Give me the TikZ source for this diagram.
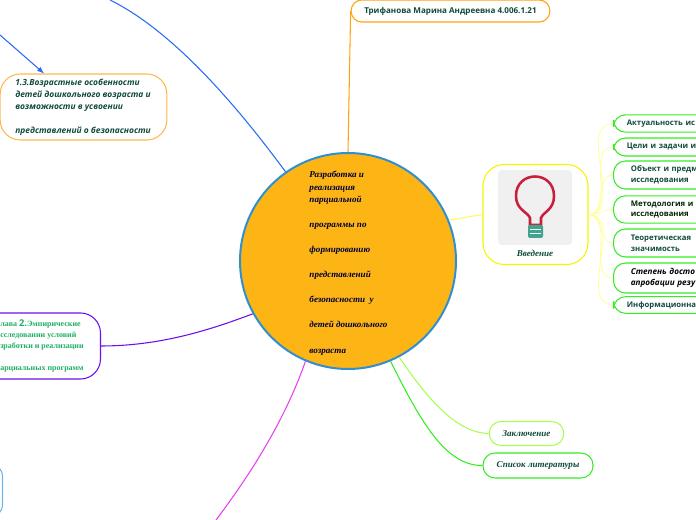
\documentclass[tikz,border=0pt]{standalone}
\usepackage{fontspec}
\setmainfont{Liberation Serif}
\setsansfont{Open Sans}
\usepackage{tikz}
\definecolor{inkgreen}{HTML}{0F4A3C}
\definecolor{mintgreen}{HTML}{1DAE68}
\definecolor{rootfill}{HTML}{FDB515}
\definecolor{rootedge}{HTML}{2F8FD0}
\definecolor{boxorange}{HTML}{FFA30F}
\definecolor{boxpeach}{HTML}{FFB84D}
\definecolor{linkblue}{HTML}{2A6CF5}
\definecolor{boxviolet}{HTML}{6A10F0}
\definecolor{boxyellow}{HTML}{F5F500}
\definecolor{fanyellow}{HTML}{FFFF99}
\definecolor{boxgreen}{HTML}{33EE22}
\definecolor{boxlime}{HTML}{A8FF50}
\definecolor{boxsky}{HTML}{70B5E5}
\definecolor{linkpink}{HTML}{E840F0}
\definecolor{bulbred}{HTML}{C91F3C}
\definecolor{bulbteal}{HTML}{3FA58F}
\tikzset{
  link/.style={line width=.8pt},
  sidebox/.style={draw=boxgreen,line width=.8pt,rounded corners=9pt,anchor=west,minimum width=150pt,
    text width=130pt,align=left,font=\sffamily\bfseries\fontsize{5.8}{8}\selectfont,text=inkgreen},
  endbox/.style={draw,line width=.8pt,rounded corners=9pt,font=\rmfamily\bfseries\itshape\fontsize{6.8}{9}\selectfont,text=inkgreen}
}
\begin{document}
\begin{tikzpicture}[x=.75pt,y=-.75pt]
\clip (0,0) rectangle (696,520);
\node[circle,draw=rootedge,line width=1.5pt,fill=rootfill,minimum size=162pt,inner sep=0pt] (main) at (348,261) {};
\node[align=left,inner sep=0pt,font=\rmfamily\bfseries\itshape\fontsize{6.8}{9.4}\selectfont,text=black!80!blue] (maintitle) at (348.5,263)
  {Разработка и\\реализация\\парциальной\\[9.4pt]программы по\\[9.4pt]формированию\\[9.4pt]представлений\\[9.4pt]безопасности\ \ у\\[9.4pt]детей дошкольного\\[9.4pt]возраста};
% top and left
\node[draw=boxorange,line width=.8pt,rounded corners=8pt,minimum width=149pt,minimum height=16.5pt,
  font=\sffamily\bfseries\fontsize{6.05}{8}\selectfont,text=inkgreen] (author) at (450.5,11) {Трифанова Марина Андреевна 4.006.1.21};
\node[draw=boxpeach,line width=.8pt,rounded corners=15pt,minimum width=125pt,minimum height=49.5pt] (age) at (83.5,107) {};
\node[anchor=west,align=left,inner sep=0pt,font=\sffamily\bfseries\itshape\fontsize{6.3}{9}\selectfont,text=inkgreen] (agetext) at (15,107)
  {1.3.Возрастные особенности\\детей дошкольного возраста и\\возможности в усвоении\\[9pt]представлений о безопасности};
\node[draw=boxviolet,line width=.8pt,rounded corners=15pt,anchor=east,minimum width=130pt,minimum height=49.5pt] (empiric) at (101,346) {};
\node[anchor=west,align=left,inner sep=0pt,font=\rmfamily\bfseries\fontsize{6}{8.25}\selectfont,text=mintgreen] (empirictext) at (0,346)
  {лава \textsf{\fontsize{7}{8}\selectfont 2.}Эмпирические\\сследовании условий\\зработки и реализации\\[8.25pt]арциальных программ};
\node[draw=boxsky,line width=.8pt,rounded corners=10pt,anchor=east,minimum width=60pt,minimum height=41pt] (practice) at (3,490.5) {};
\coordinate (bluein) at (0,35);
\coordinate (blueout) at (110,0);
\coordinate (pinkout) at (216,520);
\draw[link,boxorange] (main.90) -- (author.west);
\draw[link,linkblue,-latex] (bluein) -- (age.north -| 44,0);
\draw[link,linkblue] (blueout) .. controls (175,32) and (240,110) .. (main.125);
\draw[link,boxviolet] (empiric.east) .. controls (160,346) and (210,330) .. (main.209);
\draw[link,linkpink] (pinkout) .. controls (250,475) and (285,420) .. (main.247);
% intro and its list
\node[draw=boxyellow,line width=.8pt,rounded corners=16pt,minimum width=78.75pt,minimum height=75pt] (intro) at (535.5,214.5) {};
\fill[black!6!white,rounded corners=3pt] (498,170) rectangle (572,245);
\draw[line width=1.9pt,bulbred] (530,225) -- (530,218) .. controls (528,212) and (516,210) .. (516,196) .. controls (516,170) and (554,170) .. (554,196) .. controls (554,210) and (543,212) .. (541,218) -- (541,225) -- cycle;
\fill[bulbteal,rounded corners=1.5pt] (528,225) rectangle (543,238);
\draw[white,line width=.6pt] (530,229) -- (541,229) (530,233) -- (541,233);
\node[font=\rmfamily\bfseries\itshape\fontsize{6.8}{9}\selectfont,text=inkgreen] (introtitle) at (535,253) {Введение};
\draw[link,fanyellow!60!boxyellow] (main.22) -- (intro.west);
\node[sidebox,inner xsep=8pt,minimum height=13pt] (topic) at (613,123.5) {Актуальность ис};
\node[sidebox,inner xsep=8pt,minimum height=13.5pt] (aims) at (613,147) {Цели и задачи и};
\node[sidebox,inner xsep=13pt,minimum height=21pt,text width=125pt] (object) at (613,175) {Объект и предм\\исследования};
\node[sidebox,inner xsep=13pt,minimum height=20.5pt,text width=125pt,text=black!85!green] (method) at (613,209.5) {Методология и\\исследования};
\node[sidebox,inner xsep=13pt,minimum height=21pt,text width=125pt] (theory) at (613,243) {Теоретическая\\значимость};
\node[sidebox,inner xsep=13pt,minimum height=22.5pt,text width=125pt,text=black,
  font=\sffamily\itshape\bfseries\fontsize{6.1}{8.5}\selectfont] (degree) at (613,278) {Степень досто\\апробации резу};
\node[sidebox,inner xsep=8pt,minimum height=12pt] (base) at (613,305) {Информационна};
\draw[line width=.6pt,fanyellow] (intro.east) to[out=0,in=180] (topic.west);
\draw[line width=.6pt,fanyellow] (intro.east) to[out=0,in=180] (aims.west);
\draw[line width=.6pt,fanyellow] (intro.east) to[out=0,in=180] (object.west);
\draw[line width=.6pt,fanyellow] (intro.east) to[out=0,in=180] (method.west);
\draw[line width=.6pt,fanyellow] (intro.east) to[out=0,in=180] (theory.west);
\draw[line width=.6pt,fanyellow] (intro.east) to[out=0,in=180] (degree.west);
\draw[line width=.6pt,fanyellow] (intro.east) to[out=0,in=180] (base.west);
% bottom right
\node[endbox,draw=boxlime,minimum width=56pt,minimum height=18pt] (outro) at (526.5,433.5) {Заключение};
\node[endbox,draw=boxgreen,minimum width=82.5pt,minimum height=18.75pt] (refs) at (538,465.5) {Список литературы};
\draw[link,boxlime] (main.-62) .. controls (425,395) and (455,433) .. (outro.west);
\draw[link,boxgreen] (main.-67) .. controls (420,420) and (445,466) .. (refs.west);
\end{tikzpicture}
\end{document}
